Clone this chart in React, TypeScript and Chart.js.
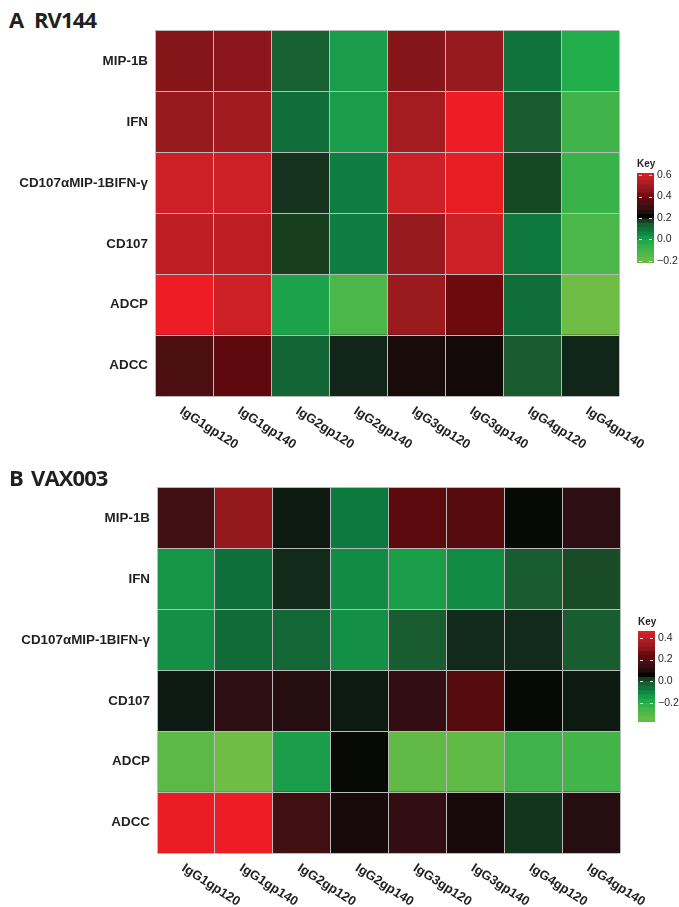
import React, { useEffect, useRef } from "react";
import { Chart, registerables } from "chart.js";
Chart.register(...registerables);

const rowLabels = ["MIP-1B", "IFN", "CD107αMIP-1BIFN-γ", "CD107", "ADCP", "ADCC"];
const colLabels = ["IgG1gp120", "IgG1gp140", "IgG2gp120", "IgG2gp140", "IgG3gp120", "IgG3gp140", "IgG4gp120", "IgG4gp140"];

const rv144Values = [
  [0.43, 0.44, 0.12, -0.01, 0.43, 0.46, 0.08, -0.05],
  [0.46, 0.49, 0.09, -0.01, 0.5, 0.62, 0.13, -0.1],
  [0.57, 0.57, 0.17, 0.06, 0.57, 0.61, 0.15, -0.09],
  [0.54, 0.54, 0.16, 0.06, 0.46, 0.57, 0.07, -0.14],
  [0.62, 0.57, -0.02, -0.14, 0.47, 0.39, 0.09, -0.22],
  [0.33, 0.36, 0.11, 0.18, 0.23, 0.22, 0.13, 0.18],
];

const vax003Values = [
  [0.14, 0.3, 0.03, -0.09, 0.2, 0.19, 0.04, 0.1],
  [-0.15, -0.07, 0.02, -0.13, -0.17, -0.13, -0.03, -0.01],
  [-0.14, -0.06, -0.05, -0.14, -0.03, 0.02, 0.02, -0.03],
  [0.03, 0.1, 0.09, 0.03, 0.11, 0.19, 0.04, 0.03],
  [-0.34, -0.38, -0.17, 0.04, -0.35, -0.35, -0.26, -0.27],
  [0.46, 0.47, 0.14, 0.07, 0.11, 0.07, 0.01, 0.09],
];

const rv144Range: [number, number] = [-0.22, 0.62];
const vax003Range: [number, number] = [-0.38, 0.465];
const rv144KeyTicks = [-0.2, 0, 0.2, 0.4, 0.6];
const vax003KeyTicks = [-0.2, 0, 0.2, 0.4];

const colorStops: [number, string][] = [
  [0.0, "#6fbd45"],
  [0.08, "#4fb748"],
  [0.14, "#40b34a"],
  [0.2, "#22b04b"],
  [0.25, "#1a9d4a"],
  [0.3, "#118a44"],
  [0.34, "#0e7a3e"],
  [0.38, "#106a38"],
  [0.42, "#1a5a2e"],
  [0.45, "#164020"],
  [0.475, "#12281a"],
  [0.5, "#050505"],
  [0.53, "#170a0a"],
  [0.57, "#2e0e12"],
  [0.61, "#3d0f12"],
  [0.65, "#4a1012"],
  [0.69, "#5e090d"],
  [0.73, "#6e0a0e"],
  [0.77, "#84141a"],
  [0.81, "#961a1e"],
  [0.86, "#a61c20"],
  [0.9, "#bc1e22"],
  [0.94, "#cd1f26"],
  [1.0, "#ee1c24"],
];

function hexToRgb(h: string) {
  const n = parseInt(h.slice(1), 16);
  return [(n >> 16) & 255, (n >> 8) & 255, n & 255];
}

function colorAt(t: number) {
  const tt = Math.max(0, Math.min(1, t));
  for (let i = 0; i < colorStops.length - 1; i++) {
    const [t0, c0] = colorStops[i];
    const [t1, c1] = colorStops[i + 1];
    if (tt >= t0 && tt <= t1) {
      const f = (tt - t0) / (t1 - t0 || 1);
      const a = hexToRgb(c0);
      const b = hexToRgb(c1);
      const r = a.map((v, k) => Math.round(v + (b[k] - v) * f));
      return `rgb(${r[0]},${r[1]},${r[2]})`;
    }
  }
  return colorStops[colorStops.length - 1][1];
}

function valueColor(v: number, range: [number, number]) {
  return colorAt((v - range[0]) / (range[1] - range[0]));
}

const TEXT = "#231f20";
const FONT = '"Liberation Sans", Arial, sans-serif';

const colLabelPlugin = {
  id: "colLabels",
  afterDraw(chart: any) {
    const { ctx, chartArea } = chart;
    const x = chart.scales.x;
    ctx.save();
    ctx.font = `bold 13px ${FONT}`;
    ctx.fillStyle = TEXT;
    ctx.textAlign = "left";
    ctx.textBaseline = "middle";
    colLabels.forEach((lab, i) => {
      const px = x.getPixelForValue(i + 0.5) - 3;
      const py = chartArea.bottom + 14;
      ctx.save();
      ctx.translate(px, py);
      ctx.rotate((33 * Math.PI) / 180);
      ctx.fillText(lab, 0, 0);
      ctx.restore();
    });
    ctx.restore();
  },
};

type HeatProps = {
  values: number[][];
  range: [number, number];
  top: number;
  height: number;
  area: { left: number; right: number; top: number; bottom: number };
};

function Heatmap({ values, range, top, height, area }: HeatProps) {
  const ref = useRef<HTMLCanvasElement>(null);
  useEffect(() => {
    if (!ref.current) return;
    const datasets = colLabels.map((c, ci) => ({
      label: c,
      data: rowLabels.map(() => 1),
      backgroundColor: values.map((row) => valueColor(row[ci], range)),
      borderWidth: 0,
      barPercentage: 1,
      categoryPercentage: 1,
    }));
    const chart = new Chart(ref.current, {
      type: "bar",
      data: { labels: rowLabels, datasets },
      options: {
        indexAxis: "y",
        animation: false,
        responsive: false,
        devicePixelRatio: 1,
        layout: {
          padding: {
            left: 0,
            top: area.top,
            right: 679 - area.right,
            bottom: height - area.bottom,
          },
        },
        plugins: { legend: { display: false }, tooltip: { enabled: false } },
        scales: {
          x: {
            type: "linear",
            stacked: true,
            min: 0,
            max: 8,
            ticks: { display: false, stepSize: 1 },
            grid: { color: "#bababa", lineWidth: 1, drawTicks: false, z: 1 },
            border: { display: false },
            afterFit: (s: any) => {
              s.height = 0;
            },
          },
          y: {
            type: "category",
            stacked: true,
            grid: { color: "#bababa", lineWidth: 1, drawTicks: false, offset: true, z: 1 },
            border: { display: false },
            ticks: {
              padding: 7,
              color: TEXT,
              font: { family: FONT, weight: "bold", size: 13.4 },
            },
            afterFit: (s: any) => {
              s.width = area.left;
            },
          },
        },
      } as any,
      plugins: [colLabelPlugin],
    });
    return () => chart.destroy();
  }, []);
  return (
    <canvas
      ref={ref}
      width={679}
      height={height}
      style={{ position: "absolute", left: 0, top, width: 679, height }}
    />
  );
}

type KeyProps = {
  range: [number, number];
  ticks: number[];
  box: { left: number; top: number; width: number; height: number };
};

const keyDashPlugin = {
  id: "keyDashes",
  afterDatasetsDraw(chart: any) {
    const { ctx, chartArea } = chart;
    const y = chart.scales.y;
    ctx.save();
    ctx.strokeStyle = "rgba(255,255,255,0.85)";
    ctx.lineWidth = 1;
    (y.ticks || []).forEach((t: any) => {
      const py = Math.round(y.getPixelForValue(t.value)) + 0.5;
      ctx.beginPath();
      ctx.moveTo(chartArea.left + 2, py);
      ctx.lineTo(chartArea.left + 5, py);
      ctx.moveTo(chartArea.right - 5, py);
      ctx.lineTo(chartArea.right - 2, py);
      ctx.stroke();
    });
    ctx.restore();
  },
};

function ColorKey({ range, ticks, box }: KeyProps) {
  const ref = useRef<HTMLCanvasElement>(null);
  const cw = 679 - box.left;
  const ch = box.height + 20;
  useEffect(() => {
    if (!ref.current) return;
    const bandCount = 21;
    const step = (range[1] - range[0]) / bandCount;
    const datasets = Array.from({ length: bandCount }, (_, i) => {
      const lo = range[0] + i * step;
      const hi = Math.min(range[1], lo + step * 1.3);
      return {
        data: [[lo, hi]],
        backgroundColor: valueColor(lo + step / 2, range),
        borderWidth: 0,
        grouped: false,
        barPercentage: 1,
        categoryPercentage: 1,
      };
    });
    const chart = new Chart(ref.current, {
      type: "bar",
      data: { labels: ["key"], datasets },
      options: {
        animation: false,
        responsive: false,
        devicePixelRatio: 1,
        layout: { padding: { left: 0, top: 10, bottom: 10, right: 0 } },
        plugins: { legend: { display: false }, tooltip: { enabled: false } },
        scales: {
          x: { type: "category", display: false },
          y: {
            type: "linear",
            position: "right",
            min: range[0],
            max: range[1],
            afterBuildTicks: (s: any) => {
              s.ticks = ticks.map((v) => ({ value: v }));
            },
            ticks: {
              padding: 3,
              color: TEXT,
              font: { family: FONT, size: 10.5 },
              callback: (v: any) => (v < 0 ? "\u2212" : "") + Math.abs(Number(v)).toFixed(1),
            },
            grid: { display: false, drawTicks: false },
            border: { display: false },
            afterFit: (s: any) => {
              s.width = cw - box.width;
            },
          },
        },
      } as any,
      plugins: [keyDashPlugin],
    });
    return () => chart.destroy();
  }, []);
  return (
    <>
      <div
        style={{
          position: "absolute",
          left: box.left,
          top: box.top - 14,
          font: `bold 10px ${FONT}`,
          lineHeight: "10px",
          color: TEXT,
        }}
      >
        Key
      </div>
      <canvas
        ref={ref}
        width={cw}
        height={ch}
        style={{ position: "absolute", left: box.left, top: box.top - 10, width: cw, height: ch }}
      />
    </>
  );
}

function Title({ letter, name, top, nameLeft }: { letter: string; name: string; top: number; nameLeft: number }) {
  const st: React.CSSProperties = {
    position: "absolute",
    top,
    fontFamily: '"Open Sans", sans-serif',
    fontWeight: 700,
    fontSize: 22,
    lineHeight: "22px",
    letterSpacing: "-0.9px",
    color: TEXT,
    whiteSpace: "nowrap",
  };
  return (
    <>
      <div style={{ ...st, left: 9 }}>{letter}</div>
      <div style={{ ...st, left: nameLeft }}>{name}</div>
    </>
  );
}

export default function App() {
  return (
    <div
      style={{
        position: "absolute",
        left: 0,
        top: 0,
        width: 679,
        height: 907,
        background: "#fff",
        overflow: "hidden",
      }}
    >
      <Title letter="A" name="RV144" top={8} nameLeft={34} />
      <Heatmap
        values={rv144Values}
        range={rv144Range}
        top={0}
        height={470}
        area={{ left: 155, right: 619, top: 31, bottom: 396 }}
      />
      <ColorKey range={rv144Range} ticks={rv144KeyTicks} box={{ left: 637, top: 173, width: 17, height: 90 }} />

      <Title letter="B" name="VAX003" top={466} nameLeft={31} />
      <Heatmap
        values={vax003Values}
        range={vax003Range}
        top={460}
        height={447}
        area={{ left: 157, right: 620, top: 28, bottom: 393 }}
      />
      <ColorKey range={vax003Range} ticks={vax003KeyTicks} box={{ left: 638, top: 631, width: 17, height: 91 }} />
    </div>
  );
}
